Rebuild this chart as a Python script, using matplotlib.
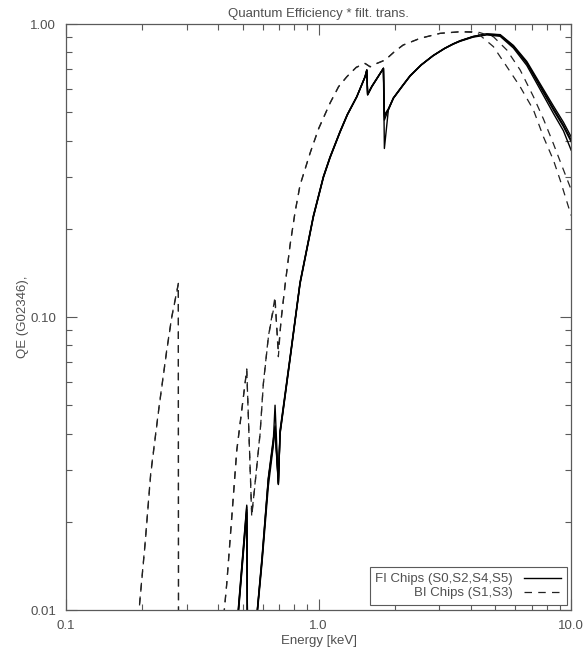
import matplotlib
matplotlib.use('Agg')
import matplotlib.pyplot as plt
import numpy as np
from matplotlib.ticker import LogLocator, NullFormatter

# QE * filter transmission
# FI chips (S0,S2,S4,S5) share one energy grid
fi_energy = [0.470, 0.5196, 0.5257, 0.565, 0.5724, 0.5973, 0.6326, 0.6622, 0.6725, 0.6931,
             0.7038, 0.771, 0.8446, 0.9537, 1.045, 1.110, 1.216, 1.300, 1.417, 1.528,
             1.552, 1.564, 1.624, 1.806, 1.822, 1.889, 1.978, 2.15, 2.304, 2.55,
             2.842, 3.15, 3.409, 3.634, 4.092, 4.636, 5.234, 5.908, 6.675, 7.537,
             8.509, 9.322, 10.0]

qe_s0 = [0.0078, 0.0225, 0.004, 0.0075, 0.0100, 0.0148, 0.0278, 0.0380, 0.0500, 0.0269,
         0.0401, 0.0720, 0.1303, 0.220, 0.300, 0.350, 0.428, 0.490, 0.5648, 0.6608,
         0.6966, 0.5723, 0.6109, 0.7058, 0.376, 0.5087, 0.5577, 0.615, 0.665, 0.725,
         0.780, 0.825, 0.855, 0.875, 0.905, 0.922, 0.915, 0.8366, 0.734, 0.6109,
         0.5087, 0.4462, 0.3966]
qe_s2 = [0.0076, 0.0215, 0.004, 0.0075, 0.0100, 0.0150, 0.0280, 0.0372, 0.0425, 0.0272,
         0.0405, 0.0725, 0.1310, 0.221, 0.301, 0.351, 0.429, 0.491, 0.5650, 0.6610,
         0.6960, 0.5750, 0.6120, 0.7060, 0.483, 0.5120, 0.5590, 0.616, 0.666, 0.726,
         0.781, 0.826, 0.856, 0.877, 0.907, 0.925, 0.920, 0.845, 0.745, 0.625,
         0.525, 0.462, 0.412]
qe_s4 = [0.0077, 0.0220, 0.004, 0.0073, 0.0098, 0.0145, 0.0265, 0.0365, 0.0420, 0.0270,
         0.0398, 0.0715, 0.1295, 0.219, 0.299, 0.349, 0.427, 0.489, 0.5640, 0.6600,
         0.6950, 0.5740, 0.6100, 0.7050, 0.470, 0.5100, 0.5580, 0.614, 0.664, 0.724,
         0.779, 0.824, 0.854, 0.876, 0.906, 0.924, 0.918, 0.840, 0.738, 0.617,
         0.515, 0.452, 0.402]
qe_s5 = [0.0079, 0.0228, 0.004, 0.0076, 0.0101, 0.0152, 0.0283, 0.0385, 0.0410, 0.0268,
         0.0410, 0.0730, 0.1315, 0.222, 0.302, 0.352, 0.430, 0.492, 0.5655, 0.6615,
         0.6970, 0.5760, 0.6130, 0.7065, 0.490, 0.5130, 0.5600, 0.617, 0.667, 0.726,
         0.780, 0.824, 0.853, 0.873, 0.902, 0.918, 0.908, 0.828, 0.722, 0.598,
         0.495, 0.432, 0.371]

# BI chips (S1,S3)
bi_energy = [0.185, 0.1945, 0.2056, 0.2165, 0.2335, 0.2505, 0.2622, 0.2785, 0.2790, 0.400,
             0.4223, 0.4328, 0.4531, 0.4743, 0.4963, 0.5196, 0.5437, 0.5604, 0.5866, 0.6045,
             0.6326, 0.6527, 0.6725, 0.6931, 0.7102, 0.7367, 0.771, 0.807, 0.8446, 0.9254,
             1.000, 1.110, 1.200, 1.293, 1.410, 1.528, 1.600, 1.700, 1.834, 2.000,
             2.161, 2.523, 3.028, 3.634, 4.232, 4.923, 5.565, 6.281, 7.091, 7.768,
             8.509, 9.045, 10.0]

qe_s1 = [0.0085, 0.0100, 0.0169, 0.0294, 0.0494, 0.0772, 0.1002, 0.1303, 0.004, 0.006,
         0.0098, 0.0123, 0.0208, 0.0352, 0.0482, 0.0659, 0.0208, 0.0271, 0.0402, 0.0594,
         0.0857, 0.1002, 0.1173, 0.0732, 0.0977, 0.1286, 0.1761, 0.2283, 0.2822, 0.3628,
         0.440, 0.5375, 0.612, 0.6608, 0.712, 0.734, 0.715, 0.734, 0.7536, 0.806,
         0.848, 0.894, 0.9295, 0.9413, 0.941, 0.905, 0.815, 0.697, 0.565, 0.474,
         0.390, 0.340, 0.272]
qe_s3 = [0.0084, 0.0099, 0.0167, 0.0290, 0.0490, 0.0765, 0.0995, 0.1295, 0.004, 0.006,
         0.0097, 0.0122, 0.0205, 0.0348, 0.0478, 0.0665, 0.0212, 0.0268, 0.0398, 0.0590,
         0.0850, 0.0995, 0.1120, 0.0770, 0.0970, 0.1280, 0.1755, 0.2275, 0.2815, 0.3620,
         0.438, 0.5365, 0.610, 0.6600, 0.711, 0.733, 0.714, 0.733, 0.7530, 0.805,
         0.847, 0.893, 0.9290, 0.9405, 0.935, 0.837, 0.715, 0.611, 0.509, 0.412,
         0.343, 0.2935, 0.222]

xticks = [0.1, 1.0, 10.0]
xticklabels = ['0.1', '1.0', '10.0']
yticks = [0.01, 0.1, 1.0]
yticklabels = ['0.01', '0.10', '1.00']

plt.rcParams['font.family'] = ['Liberation Sans', 'DejaVu Sans']
txt = '#505050'
axc = '#5a5a5a'

fig = plt.figure(figsize=(5.84, 6.56), dpi=100)
ax = fig.add_axes([0.113, 0.0701, 0.865, 0.8933])

# FI chips, solid
for i, q in enumerate([qe_s0, qe_s2, qe_s4, qe_s5]):
    ax.plot(fi_energy, q, color='black', lw=1.0,
            label='FI Chips (S0,S2,S4,S5)' if i == 0 else None)

# BI chips, dashed
for i, q in enumerate([qe_s1, qe_s3]):
    ax.plot(bi_energy, q, color='#222222', lw=0.9, dashes=(6, 5),
            label='BI Chips (S1,S3)' if i == 0 else None)

ax.set_xscale('log')
ax.set_yscale('log')
ax.set_xlim(0.1, 10.0)
ax.set_ylim(0.01, 1.0)

ax.set_xticks(xticks)
ax.set_xticklabels(xticklabels)
ax.set_yticks(yticks)
ax.set_yticklabels(yticklabels)
ax.xaxis.set_minor_locator(LogLocator(base=10, subs=np.arange(2, 10)))
ax.yaxis.set_minor_locator(LogLocator(base=10, subs=np.arange(2, 10)))
ax.xaxis.set_minor_formatter(NullFormatter())
ax.yaxis.set_minor_formatter(NullFormatter())

ax.tick_params(which='both', direction='in', top=True, right=True,
               color=axc, labelcolor=txt, labelsize=9.5, width=0.8, pad=7)
ax.tick_params(which='major', length=8)
ax.tick_params(which='minor', length=4.3)
for s in ax.spines.values():
    s.set_color(axc)
    s.set_linewidth(0.9)

ax.set_title('Quantum Efficiency * filt. trans.', fontsize=9.5, color=txt, pad=5)
ax.set_xlabel('Energy [keV]', fontsize=9.5, color=txt, labelpad=2)
ax.set_ylabel('QE (G02346),', fontsize=9.5, color=txt, labelpad=1)

leg = ax.legend(loc='lower right', markerfirst=False, fancybox=False, edgecolor=axc,
                handlelength=2.8, labelspacing=0.15, borderpad=0.45, borderaxespad=0.35,
                fontsize=9.5, framealpha=1)
leg.get_frame().set_linewidth(0.8)
for t in leg.get_texts():
    t.set_color(txt)

fig.savefig('out.png', dpi=100)
